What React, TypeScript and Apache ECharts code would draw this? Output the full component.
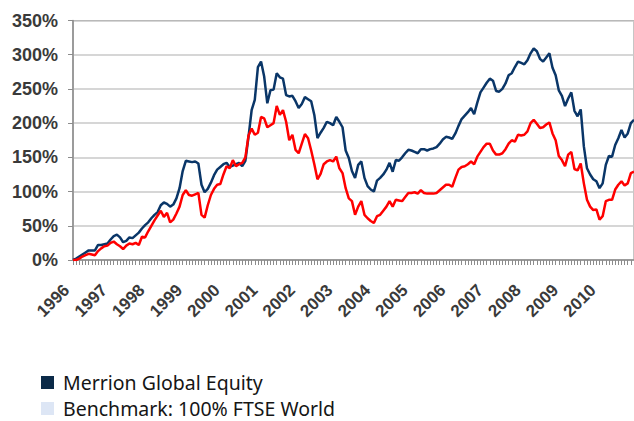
import React, { useEffect, useRef } from "react";
import * as echarts from "echarts";

const yearLabels = ["1996", "1997", "1998", "1999", "2000", "2001", "2002", "2003", "2004", "2005", "2006", "2007", "2008", "2009", "2010"];

const merrion = [
  0, 2, 5, 8, 11, 14, 14, 14, 22, 22, 23, 24, 30, 35, 37, 33, 26, 28, 33, 32,
  36, 40, 46, 51, 55, 61, 66, 70, 80, 84, 82, 78, 81, 90, 105, 130, 145, 144, 143, 144,
  141, 110, 99, 104, 113, 124, 132, 136, 140, 142, 136, 138, 140, 142, 137, 145, 180, 219, 234, 282,
  290, 268, 229, 248, 249, 273, 267, 265, 241, 239, 240, 232, 222, 228, 238, 235, 232, 212, 178, 186,
  193, 202, 200, 197, 209, 202, 194, 160, 149, 130, 120, 139, 144, 120, 108, 103, 100, 116, 120, 125,
  132, 142, 129, 146, 145, 150, 156, 161, 160, 158, 156, 162, 162, 160, 162, 163, 165, 170, 176, 180,
  179, 177, 185, 196, 206, 211, 216, 222, 213, 230, 245, 252, 259, 265, 262, 247, 246, 250, 258, 270,
  273, 282, 290, 288, 286, 292, 302, 309, 305, 294, 290, 296, 302, 281, 270, 248, 240, 225, 236, 245,
  218, 210, 220, 166, 134, 125, 118, 115, 105, 112, 139, 152, 151, 168, 178, 190, 179, 185, 200, 205,
];

const benchmark = [
  0, 0, 2, 5, 7, 9, 8, 7, 13, 17, 20, 21, 25, 27, 23, 20, 16, 21, 24, 23,
  25, 22, 34, 33, 42, 50, 58, 65, 72, 63, 69, 55, 59, 68, 78, 95, 102, 95, 94, 96,
  98, 66, 62, 80, 95, 104, 110, 111, 125, 137, 134, 146, 137, 140, 142, 150, 182, 192, 183, 186,
  209, 207, 194, 197, 200, 225, 212, 219, 202, 175, 183, 161, 156, 170, 184, 178, 160, 140, 118, 126,
  140, 144, 146, 144, 151, 134, 127, 105, 90, 86, 66, 78, 86, 66, 61, 57, 54, 64, 66, 72,
  78, 86, 78, 88, 87, 86, 92, 98, 98, 99, 97, 102, 98, 97, 97, 97, 98, 102, 106, 110,
  110, 107, 120, 132, 136, 137, 140, 144, 140, 151, 158, 165, 170, 170, 160, 154, 154, 156, 162, 170,
  175, 173, 183, 182, 183, 188, 200, 205, 199, 193, 194, 198, 201, 185, 175, 152, 146, 137, 154, 158,
  133, 131, 141, 112, 88, 78, 73, 74, 59, 64, 86, 88, 88, 103, 110, 115, 109, 112, 127, 129,
];

const seriesNames = ["Merrion Global Equity", "Benchmark: 100% FTSE World"];
const legendSwatches = ["#0b2a48", "#dde6f5"];

const months = merrion.map((_, i) => `${yearLabels[Math.floor(i / 12)]}-${(i % 12) + 1}`);

export default function App() {
  const ref = useRef<HTMLDivElement>(null);
  useEffect(() => {
    if (!ref.current) return;
    const chart = echarts.init(ref.current, undefined, { renderer: "svg" });
    const legendItems = seriesNames.map((name, k) => ({
      type: "group",
      x: 41,
      y: 376 + k * 26,
      children: [
        { type: "rect", shape: { x: 0, y: 0, width: 13, height: 13 }, style: { fill: legendSwatches[k] } },
        {
          type: "text",
          x: 22,
          y: 6.5,
          style: {
            text: name,
            fontFamily: "Noto Sans",
            fontSize: 19.5,
            fill: "#151515",
            verticalAlign: "middle",
            align: "left",
          },
        },
      ],
    }));
    chart.setOption({
      animation: false,
      backgroundColor: "#ffffff",
      grid: {
        left: 73,
        top: 20.5,
        width: 562,
        height: 239.5,
        show: true,
        borderColor: "#8c8c8c",
        borderWidth: 1,
      },
      graphic: legendItems,
      xAxis: {
        type: "category",
        data: months,
        boundaryGap: false,
        axisLine: { show: true, lineStyle: { color: "#8c8c8c", width: 1.5 } },
        axisTick: { show: true, interval: 0, length: 5, lineStyle: { color: "#8c8c8c", width: 1 } },
        axisLabel: {
          interval: (index: number) => index % 12 === 0,
          formatter: (value: string, index: number) => (index % 12 === 0 ? yearLabels[index / 12] : ""),
          rotate: 45,
          margin: 21,
          padding: [0, 9, 0, 0],
          fontFamily: "Liberation Sans",
          fontWeight: "bold",
          fontSize: 17,
          color: "#3a3a3a",
        },
        splitLine: { show: false },
      },
      yAxis: {
        type: "value",
        min: 0,
        max: 350,
        interval: 50,
        axisLine: { show: true, lineStyle: { color: "#8c8c8c", width: 1.5 } },
        axisTick: { show: true, length: 5, lineStyle: { color: "#8c8c8c" } },
        axisLabel: {
          formatter: "{value}%",
          margin: 15,
          fontFamily: "Liberation Sans",
          fontWeight: "bold",
          fontSize: 18,
          color: "#3a3a3a",
        },
        splitLine: { show: true, lineStyle: { color: "#c8c8c8", width: 1.5 } },
      },
      series: [
        {
          name: seriesNames[0],
          type: "line",
          data: merrion,
          symbol: "none",
          lineStyle: { color: "#0a3668", width: 2.5 },
          itemStyle: { color: "#0a3668" },
        },
        {
          name: seriesNames[1],
          type: "line",
          data: benchmark,
          symbol: "none",
          lineStyle: { color: "#ff0000", width: 2.5 },
          itemStyle: { color: "#ff0000" },
        },
      ],
    });
    return () => chart.dispose();
  }, []);
  return (
    <div
      ref={ref}
      style={{ position: "absolute", left: 0, top: 0, width: 634, height: 421 }}
    />
  );
}
